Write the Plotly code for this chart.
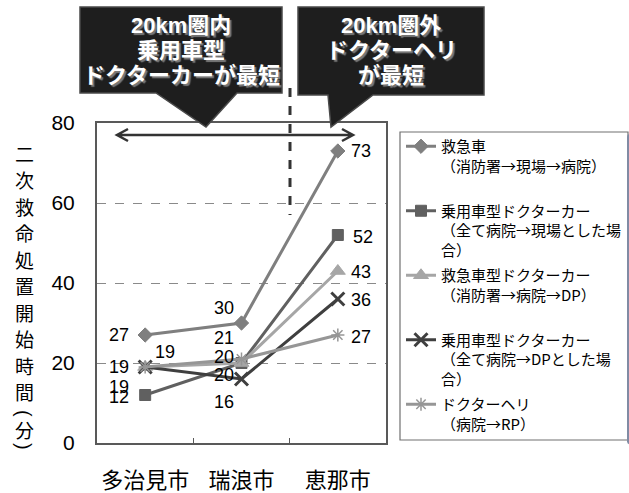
import plotly.graph_objects as go

# Municipalities on the x axis
cities = ["多治見市", "瑞浪市", "恵那市"]

# Minutes until secondary life-saving treatment starts, per transport mode
ambulance = [27, 30, 73]
car_dc_scene = [12, 20, 52]
amb_dc_dp = [19, 20, 43]
car_dc_dp = [19, 16, 36]
doctor_heli = [19, 21, 27]

series_names = [
    "救急車<br>（消防署→現場→病院）<br>\u00a0",
    "乗用車型ドクターカー<br>（全て病院→現場とした場<br>合）",
    "救急車型ドクターカー<br>（消防署→病院→DP）<br>\u00a0",
    "乗用車型ドクターカー<br>（全て病院→DPとした場<br>合）",
    "ドクターヘリ<br>（病院→RP）<br>\u00a0",
]
series_values = [ambulance, car_dc_scene, amb_dc_dp, car_dc_dp, doctor_heli]

y_ticks = [0, 20, 40, 60, 80]

# Styling per series
colors = ["#7f7f7f", "#606060", "#a6a6a6", "#3f3f3f", "#969696"]
symbols = ["diamond", "square", "triangle-up", "x-thin", "asterisk"]
msizes = [11, 11, 13, 13, 11]
mlines = [1, 1, 1, 3, 1.5]

# Pixel offsets of each value label (per series, per city)
label_shift = [
    [(-26, 0), (-18, 15), (23, 0)],
    [(-26, -2), (-18, -12), (25, -2)],
    [(20, 15), (-18, 6), (23, -1)],
    [(-26, 0), (-18, -23), (23, -1)],
    [(-26, -20), (-18, 21), (23, -2)],
]

W, H = 629, 493
L, R, T, B = 97, 386, 123, 443


def px(x):
    return (x - L) / (R - L)


def py(y):
    return (B - y) / (B - T)


LAT = "Liberation Sans, Noto Sans CJK JP"
JP = "Noto Sans CJK JP, Liberation Sans"

fig = go.Figure()
for i, (name, vals) in enumerate(zip(series_names, series_values)):
    fig.add_trace(go.Scatter(
        x=cities, y=vals, name=name, mode="lines+markers",
        legendgroup=f"g{i}",
        line=dict(color=colors[i], width=3),
        marker=dict(symbol=symbols[i], size=msizes[i], color=colors[i],
                    line=dict(color=colors[i], width=mlines[i])),
        cliponaxis=False,
    ))

annotations = []
for i, vals in enumerate(series_values):
    for j, v in enumerate(vals):
        dx, dy = label_shift[i][j]
        annotations.append(dict(
            x=cities[j], y=v, xref="x", yref="y", text=str(v), showarrow=False,
            xshift=dx, yshift=dy, font=dict(family=LAT, size=18, color="#000"),
        ))

# Vertical axis title, stacked one character at a time;
# the brackets are turned a quarter so they read as vertical-form brackets
title_chars = list("二次救命処置開始時間") + ["(", "分", ")"]
title_rows = [153 + 26.55 * k for k in range(10)] + [413, 429, 446]
for ch, row in zip(title_chars, title_rows):
    is_bracket = ch in "()"
    annotations.append(dict(
        x=px(24), y=py(row), xref="paper", yref="paper", showarrow=False,
        xanchor="center", yanchor="middle", text=ch,
        textangle=90 if is_bracket else 0,
        font=dict(family=LAT if is_bracket else JP, size=20 if is_bracket else 19,
                  color="#000"),
    ))

# Callout texts
callouts = [
    (181, ["20km圏内", "乗用車型", "ドクターカーが最短"]),
    (391, ["20km圏外", "ドクターヘリ", "が最短"]),
]
for cx, lines in callouts:
    for k, t in enumerate(lines):
        annotations.append(dict(
            x=px(cx), y=py([25, 50.5, 76][k]), xref="paper", yref="paper",
            xanchor="center", yanchor="middle",
            text=t, showarrow=False,
            font=dict(family=LAT, size=22, color="#ffffff", weight="bold",
                      shadow="2px 2px 1px #7a7a7a"),
        ))


def poly(points):
    return "M " + " L ".join(f"{px(a)},{py(b)}" for a, b in points) + " Z"


shapes = [
    # callout bubbles
    dict(type="path", xref="paper", yref="paper",
         path=poly([(80, 7), (282, 7), (282, 93), (237, 93), (206, 127),
                    (156, 93), (80, 93)]),
         fillcolor="#1e1e1e", line=dict(color="#4a4a4a", width=1.5)),
    dict(type="path", xref="paper", yref="paper",
         path=poly([(298, 7), (484, 7), (484, 95), (373, 95), (331, 127),
                    (328, 95), (298, 95)]),
         fillcolor="#1e1e1e", line=dict(color="#4a4a4a", width=1.5)),
    # 20 km boundary marker
    dict(type="line", xref="paper", yref="paper",
         x0=px(290), x1=px(290), y0=py(88), y1=py(215),
         line=dict(color="#333333", width=3, dash="dash")),
    # double-headed span arrow
    dict(type="path", xref="paper", yref="paper",
         path=(f"M {px(117)},{py(135)} L {px(353)},{py(135)} "
               f"M {px(128)},{py(129)} L {px(117)},{py(135)} L {px(128)},{py(141)} "
               f"M {px(342)},{py(129)} L {px(353)},{py(135)} L {px(342)},{py(141)}"),
         line=dict(color="#333333", width=2.5)),
    # legend frame
    dict(type="rect", xref="paper", yref="paper",
         x0=px(400), x1=px(628), y0=py(440), y1=py(132),
         line=dict(color="#707070", width=1.2), fillcolor="rgba(0,0,0,0)"),
]

fig.update_layout(
    width=W, height=H,
    margin=dict(l=L, r=W - R, t=T, b=H - B, pad=0, autoexpand=False),
    paper_bgcolor="#ffffff", plot_bgcolor="#ffffff",
    showlegend=True,
    legend=dict(
        x=px(401), y=py(130), xanchor="left", yanchor="top",
        font=dict(family=JP, size=15, color="#000"),
        bgcolor="rgba(0,0,0,0)", borderwidth=0,
        tracegroupgap=3, valign="top", itemclick=False, maxheight=1,
    ),
    annotations=annotations,
    shapes=shapes,
    xaxis=dict(
        type="category", range=[-0.5, 2.5], automargin=False, tickangle=0,
        showline=True, mirror=True, linecolor="#595959", linewidth=2,
        showgrid=False, ticks="inside", tickson="boundaries", ticklen=5,
        tickcolor="#595959", tickwidth=1,
        tickfont=dict(family=JP, size=22, color="#000"),
        ticklabelstandoff=17,
    ),
    yaxis=dict(
        range=[0, 80], tickvals=y_ticks, automargin=False,
        showline=True, mirror=True, linecolor="#595959", linewidth=2,
        showgrid=True, gridcolor="#8a8a8a", griddash="dash", gridwidth=1,
        zeroline=False, ticks="",
        tickfont=dict(family=LAT, size=21, color="#000"),
        ticklabelstandoff=16,
    ),
)

fig.write_html("out.html")
